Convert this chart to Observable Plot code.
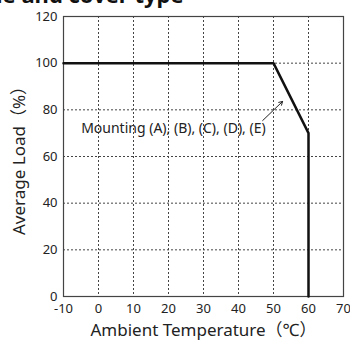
<!DOCTYPE html>
<html>
<head>
<meta charset="utf-8">
<script src="https://cdn.jsdelivr.net/npm/d3@7"></script>
<script src="https://cdn.jsdelivr.net/npm/@observablehq/plot@0.6"></script>
<style>
  body { margin: 0; background: #fff; }
  #wrap { position: relative; width: 350px; height: 341px; overflow: hidden; }
  #title { position: absolute; left: -4px; top: -21px; font: bold 22px "Noto Sans", sans-serif; color: #111; white-space: nowrap; }
</style>
</head>
<body>
<div id="wrap"><div id="title">le and cover type</div></div>
<script>
const temps = [-10, 50, 60, 60];
const loads = [100, 100, 70, 0];
const xTicks = [-10, 0, 10, 20, 30, 40, 50, 60, 70];
const yTicks = [0, 20, 40, 60, 80, 100, 120];
const gridXValues = [0, 10, 20, 30, 40, 50, 60];
const gridYValues = [20, 40, 60, 80, 100];
const annotationText = "Mounting (A), (B), (C), (D), (E)";
const annotationPos = {x: 21.4, y: 72};
const arrowFrom = {x: 46.9, y: 75.4};
const arrowTo = {x: 52.6, y: 83.6};
const xLabel = "Ambient Temperature（℃）";
const yLabel = "Average Load（%）";

const curve = temps.map((t, i) => ({t, l: loads[i]}));
const font = "'Noto Sans', 'Noto Sans CJK JP', sans-serif";

const chart = Plot.plot({
  width: 350,
  height: 341,
  marginLeft: 63,
  marginRight: 7,
  marginTop: 16,
  marginBottom: 45,
  style: {fontFamily: font, color: "#222", background: "transparent"},
  x: {domain: [-10, 70]},
  y: {domain: [0, 120]},
  marks: [
    Plot.gridX(gridXValues, {stroke: "#444", strokeOpacity: 1, strokeDasharray: "2,2", strokeWidth: 1}),
    Plot.gridY(gridYValues, {stroke: "#444", strokeOpacity: 1, strokeDasharray: "2,2", strokeWidth: 1}),
    Plot.frame({stroke: "#444", strokeWidth: 1.2}),
    Plot.axisX(xTicks, {tickSize: 0, tickPadding: 7, fontSize: 13, label: null, tickFormat: d => String(d)}),
    Plot.axisY(yTicks, {tickSize: 0, tickPadding: 6, fontSize: 13, label: null, tickFormat: d => String(d)}),
    Plot.line(curve, {x: "t", y: "l", stroke: "#111", strokeWidth: 2.5}),
    Plot.text([annotationText], {x: annotationPos.x, y: annotationPos.y, text: d => d, fontSize: 14, fill: "#222"}),
    Plot.arrow([0], {x1: arrowFrom.x, y1: arrowFrom.y, x2: arrowTo.x, y2: arrowTo.y, stroke: "#222", strokeWidth: 1, headLength: 6}),
    Plot.text([xLabel], {frameAnchor: "bottom", lineAnchor: "middle", textAnchor: "middle", dy: 34, text: d => d, fontSize: 17, fill: "#222"}),
    Plot.text([yLabel], {frameAnchor: "left", lineAnchor: "middle", textAnchor: "middle", dx: -44, rotate: -90, text: d => d, fontSize: 17, fill: "#222"})
  ]
});
document.getElementById("wrap").prepend(chart);
</script>
</body>
</html>
